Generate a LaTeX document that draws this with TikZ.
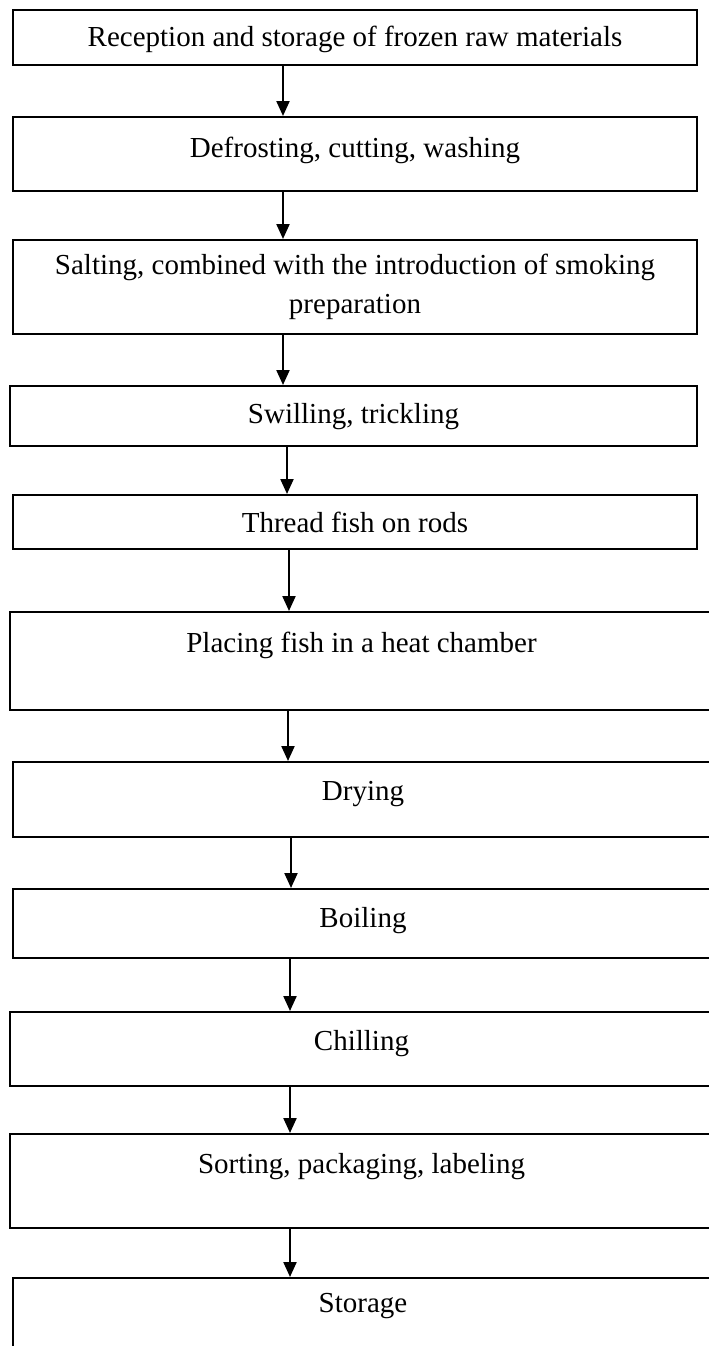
\documentclass[tikz,border=0pt]{standalone}
\usepackage{fontspec}
\setmainfont{Liberation Serif}
\usepackage{tikz}
\usetikzlibrary{arrows.meta,positioning}

\tikzset{
  stage/.style={draw, line width=2pt, inner sep=0pt, align=center,
                font=\fontsize{29}{39}\selectfont},
  flow/.style={line width=2.2pt, -{Triangle[length=15pt,width=13pt]}},
}

\begin{document}
\begin{tikzpicture}[x=1pt, y=-1pt]
    \clip (0,0) rectangle (709,1346);
    % first part: closed boxes
    \node[stage, anchor=north west, minimum width=684pt, text height=37pt, text depth=18pt] (recv) at (12,9)
        {Reception and storage of frozen raw materials};
    \node[stage, anchor=north west, minimum width=684pt, text height=40pt, text depth=34pt] (defrost) at (12,116)
        {Defrosting, cutting, washing};
    \node[stage, anchor=north west, minimum width=684pt, minimum height=94pt] (salt) at (12,239)
        {Salting, combined with the introduction of smoking\\preparation};
    \node[stage, anchor=north west, minimum width=687pt, text height=37pt, text depth=23pt] (swill) at (9,385)
        {Swilling, trickling};
    \node[stage, anchor=north west, minimum width=684pt, text height=37pt, text depth=17pt] (thread) at (12,494)
        {Thread fish on rods};
    % second part: boxes run off the page
    \node[stage, anchor=north west, minimum width=703pt, text height=40pt, text depth=58pt] (place) at (9,611)
        {Placing fish in a heat chamber};
    \node[stage, anchor=north west, minimum width=700pt, text height=38pt, text depth=37pt] (dry) at (12,761)
        {Drying};
    \node[stage, anchor=north west, minimum width=700pt, text height=38pt, text depth=31pt] (boil) at (12,888)
        {Boiling};
    \node[stage, anchor=north west, minimum width=703pt, text height=38pt, text depth=36pt] (chill) at (9,1011)
        {Chilling};
    \node[stage, anchor=north west, minimum width=703pt, text height=39pt, text depth=55pt] (sort) at (9,1133)
        {Sorting, packaging, labeling};
    \node[stage, anchor=north west, minimum width=700pt, text height=34pt, text depth=100pt] (store) at (12,1277)
        {Storage};

    \foreach \a/\b/\x in {recv/defrost/283, defrost/salt/283, salt/swill/283, swill/thread/287,
                          thread/place/289, place/dry/288, dry/boil/291, boil/chill/290,
                          chill/sort/290, sort/store/290}
        \draw[flow] (\a.south -| \x,0) -- (\b.north -| \x,0);
\end{tikzpicture}
\end{document}
